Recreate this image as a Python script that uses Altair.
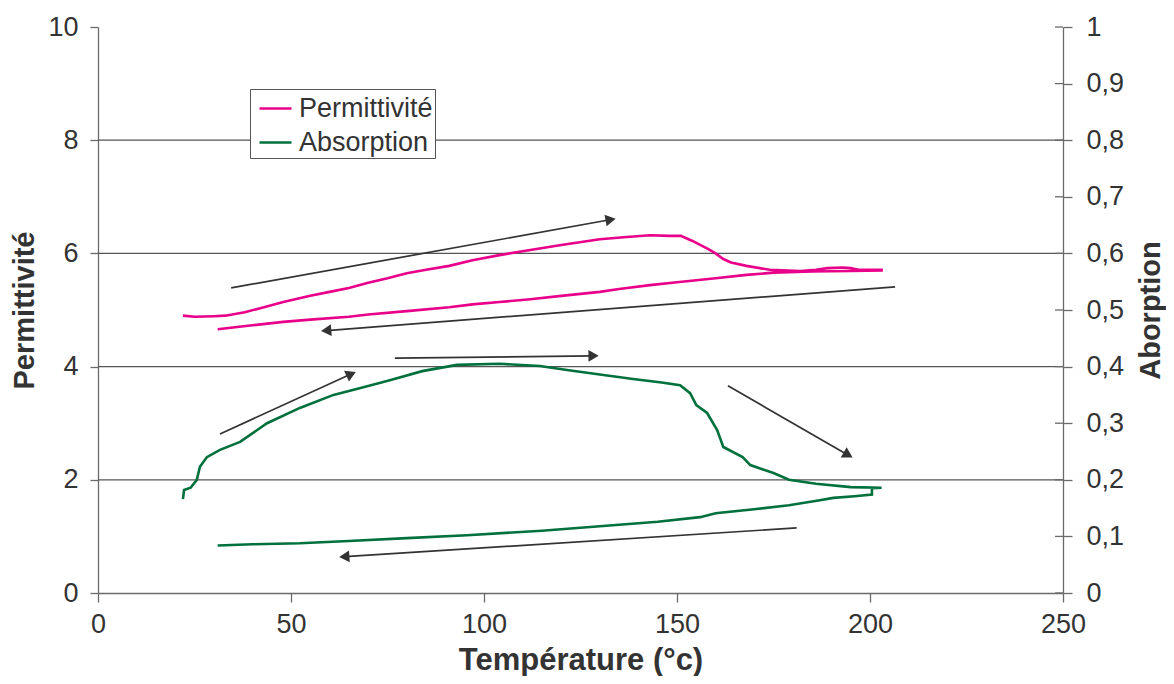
import math
import altair as alt
import pandas as pd

# ---------------- data ----------------
perm_up_T = [22, 25, 30, 33, 38, 43, 48, 55, 60, 65, 70, 75, 80, 85, 91, 97, 104, 112, 120, 130,
             137, 143, 148, 151, 154, 156, 158, 160, 162, 164, 168, 174, 182, 186, 189, 193, 195, 197, 203]
perm_up_P = [4.90, 4.88, 4.89, 4.90, 4.96, 5.05, 5.14, 5.25, 5.32, 5.39, 5.48, 5.56, 5.65, 5.71, 5.78, 5.88,
             5.97, 6.06, 6.15, 6.25, 6.29, 6.32, 6.31, 6.31, 6.22, 6.15, 6.08, 6.00, 5.90, 5.84, 5.78, 5.71,
             5.69, 5.71, 5.74, 5.75, 5.74, 5.71, 5.71]
perm_down_T = [203, 195, 185, 175, 168, 160, 150, 143, 135, 130, 120, 112, 104, 97, 91, 80, 70, 65, 55, 48, 40, 31]
perm_down_P = [5.70, 5.69, 5.68, 5.66, 5.62, 5.56, 5.49, 5.44, 5.37, 5.32, 5.25, 5.19, 5.14, 5.10, 5.05,
               4.98, 4.92, 4.88, 4.83, 4.79, 4.73, 4.66]

abs_up_T = [22, 22.3, 24, 25.6, 26.4, 28.2, 31.6, 36.8, 43.8, 52.3, 61, 68, 75.6, 84, 93, 104, 114.5, 121.5,
            130, 138.6, 146, 150.8, 153.4, 155, 157.8, 160.4, 162, 167, 169, 175, 179, 186, 195, 203, 200.5, 200.5]
abs_up_A = [0.166, 0.182, 0.186, 0.200, 0.223, 0.240, 0.253, 0.267, 0.300, 0.327, 0.350, 0.362, 0.376, 0.392,
            0.403, 0.405, 0.401, 0.394, 0.386, 0.378, 0.372, 0.367, 0.353, 0.332, 0.318, 0.288, 0.258, 0.240,
            0.226, 0.212, 0.200, 0.193, 0.187, 0.186, 0.185, 0.175]
abs_down_T = [200.5, 196, 190.5, 187, 179, 170, 160, 156, 145, 130, 115, 95.6, 80, 65, 52.3, 40, 31]
abs_down_A = [0.174, 0.171, 0.168, 0.164, 0.155, 0.148, 0.141, 0.134, 0.126, 0.118, 0.110, 0.102, 0.097,
              0.092, 0.088, 0.086, 0.084]

# annotation arrows (start -> tip), in permittivity-axis units
arrow_T0 = [34.5, 206.5, 31.6, 76.9, 163.2, 181.0]
arrow_P0 = [5.39, 5.41, 2.81, 4.15, 3.66, 1.15]
arrow_T1 = [133.9, 58.0, 66.6, 129.5, 195.3, 62.7]
arrow_P1 = [6.61, 4.63, 3.90, 4.19, 2.40, 0.636]

series_names = ["Permittivité", "Absorption"]
series_colors = ["#E8008A", "#00703C"]
left_ticks = [0, 2, 4, 6, 8, 10]
grid_vals = [2, 4, 6, 8]
right_ticks = [round(0.1 * i, 1) for i in range(11)]
x_ticks = [0, 50, 100, 150, 200, 250]

W, H = 965, 566
FONT = "Liberation Sans"
PX_T = W / 250.0
PX_P = H / 10.0

# ---------------- tables ----------------
perm_df = pd.DataFrame({"T": perm_up_T + perm_down_T, "v": perm_up_P + perm_down_P})
perm_df["series"] = series_names[0]
perm_df["idx"] = range(len(perm_df))

abs_df = pd.DataFrame({"T": abs_up_T + abs_down_T, "v": abs_up_A + abs_down_A})
abs_df["series"] = series_names[1]
abs_df["idx"] = range(len(abs_df))

rows = []
for t0, p0, t1, p1 in zip(arrow_T0, arrow_P0, arrow_T1, arrow_P1):
    dx = (t1 - t0) * PX_T
    dy = -(p1 - p0) * PX_P
    L = math.hypot(dx, dy)
    ux, uy = dx / L, dy / L
    back = 6.0
    ang = math.degrees(math.atan2(dx, -dy)) % 360
    rows.append({"T": t0, "v": p0,
                 "T1": t1 - ux * 5 / PX_T, "P1": p1 + uy * 5 / PX_P,
                 "hT": t1 - ux * back / PX_T, "hP": p1 + uy * back / PX_P, "ang": ang})
arrow_df = pd.DataFrame(rows)

grid_df = pd.DataFrame({"v": grid_vals})
rtick_df = pd.DataFrame({"v": right_ticks})

# ---------------- scales / axes ----------------
xscale = alt.Scale(domain=[0, 250], nice=False)
yl_scale = alt.Scale(domain=[0, 10], nice=False)
yr_scale = alt.Scale(domain=[0, 1], nice=False)
color_scale = alt.Scale(domain=series_names, range=series_colors)

AX = "#6a6a6a"
TXT = "#333333"
LBL = 27

x_axis = alt.Axis(values=x_ticks, grid=False, tickSize=9, tickColor=AX, domainColor=AX,
                  tickWidth=1.3, domainWidth=1.3, labelFlush=False,
                  labelFontSize=LBL, labelFont=FONT, labelColor=TXT, labelPadding=9,
                  title="Température (°c)", titleFontSize=31, titleFont=FONT, titleFontWeight="bold",
                  titleColor=TXT, titlePadding=8)
yl_axis = alt.Axis(values=left_ticks, grid=False, tickSize=8, tickColor=AX, domainColor=AX,
                   tickWidth=1.3, domainWidth=1.3,
                   labelFontSize=LBL, labelFont=FONT, labelColor=TXT, labelPadding=12,
                   title="Permittivité", titleFontSize=29, titleFont=FONT, titleFontWeight="bold",
                   titleColor=TXT, titlePadding=8)
yr_axis = alt.Axis(orient="right", values=right_ticks, grid=False, tickSize=9, tickColor=AX,
                   domainColor=AX, tickWidth=1.3, domainWidth=1.3,
                   labelExpr="replace(format(datum.value, '.1~f'), '.', ',')",
                   labelFontSize=LBL, labelFont=FONT, labelColor=TXT, labelPadding=14,
                   title="Aborption", titleFontSize=29, titleFont=FONT, titleFontWeight="bold",
                   titleColor=TXT, titleAngle=270, titleBaseline="top", titlePadding=13)

legend = alt.Legend(orient="none", legendX=152, legendY=62, fillColor="white", strokeColor="#555555",
                    padding=2, symbolOffset=6, symbolType="stroke", symbolSize=1024, symbolStrokeWidth=2.5,
                    labelFontSize=LBL, labelFont=FONT, labelColor=TXT, labelOffset=6, rowPadding=3)

X = alt.X("T:Q", scale=xscale, axis=x_axis)

# ---------------- layers ----------------
grid = alt.Chart(grid_df).mark_rule(color="#555555", strokeWidth=1.3).encode(
    y=alt.Y("v:Q", scale=yl_scale, axis=yl_axis)
)

perm_line = alt.Chart(perm_df).mark_line(strokeWidth=2.6).encode(
    x=X,
    y=alt.Y("v:Q", scale=yl_scale, axis=yl_axis),
    color=alt.Color("series:N", scale=color_scale, legend=legend, title=None),
    order=alt.Order("idx:Q"),
)

arrow_lines = alt.Chart(arrow_df).mark_rule(color="#333333", strokeWidth=1.7).encode(
    x=X,
    y=alt.Y("v:Q", scale=yl_scale, axis=yl_axis),
    x2="T1:Q",
    y2="P1:Q",
)
arrow_heads = alt.Chart(arrow_df).mark_point(shape="triangle", filled=True, color="#333333",
                                             size=140, opacity=1).encode(
    x=alt.X("hT:Q", scale=xscale, axis=x_axis),
    y=alt.Y("hP:Q", scale=yl_scale, axis=yl_axis),
    angle=alt.Angle("ang:Q", scale=None),
)

left = alt.layer(grid, perm_line, arrow_lines, arrow_heads)

abs_line = alt.Chart(abs_df).mark_line(strokeWidth=2.6).encode(
    x=X,
    y=alt.Y("v:Q", scale=yr_scale, axis=yr_axis),
    color=alt.Color("series:N", scale=color_scale, legend=legend, title=None),
    order=alt.Order("idx:Q"),
)
inner_ticks = alt.Chart(rtick_df).mark_rule(color=AX, strokeWidth=1.3).encode(
    y=alt.Y("v:Q", scale=yr_scale, axis=yr_axis),
    x=alt.value(W - 8),
    x2=alt.value(W),
)
right = alt.layer(abs_line, inner_ticks)

chart = alt.layer(left, right).resolve_scale(y="independent").properties(
    width=W, height=H,
    padding={"left": 90, "top": 19, "right": 103, "bottom": 83},
    autosize=alt.AutoSizeParams(type="none"),
).configure(font=FONT).configure_view(stroke="transparent")

chart.save("out.html", embed_options={"renderer": "svg", "actions": False})
